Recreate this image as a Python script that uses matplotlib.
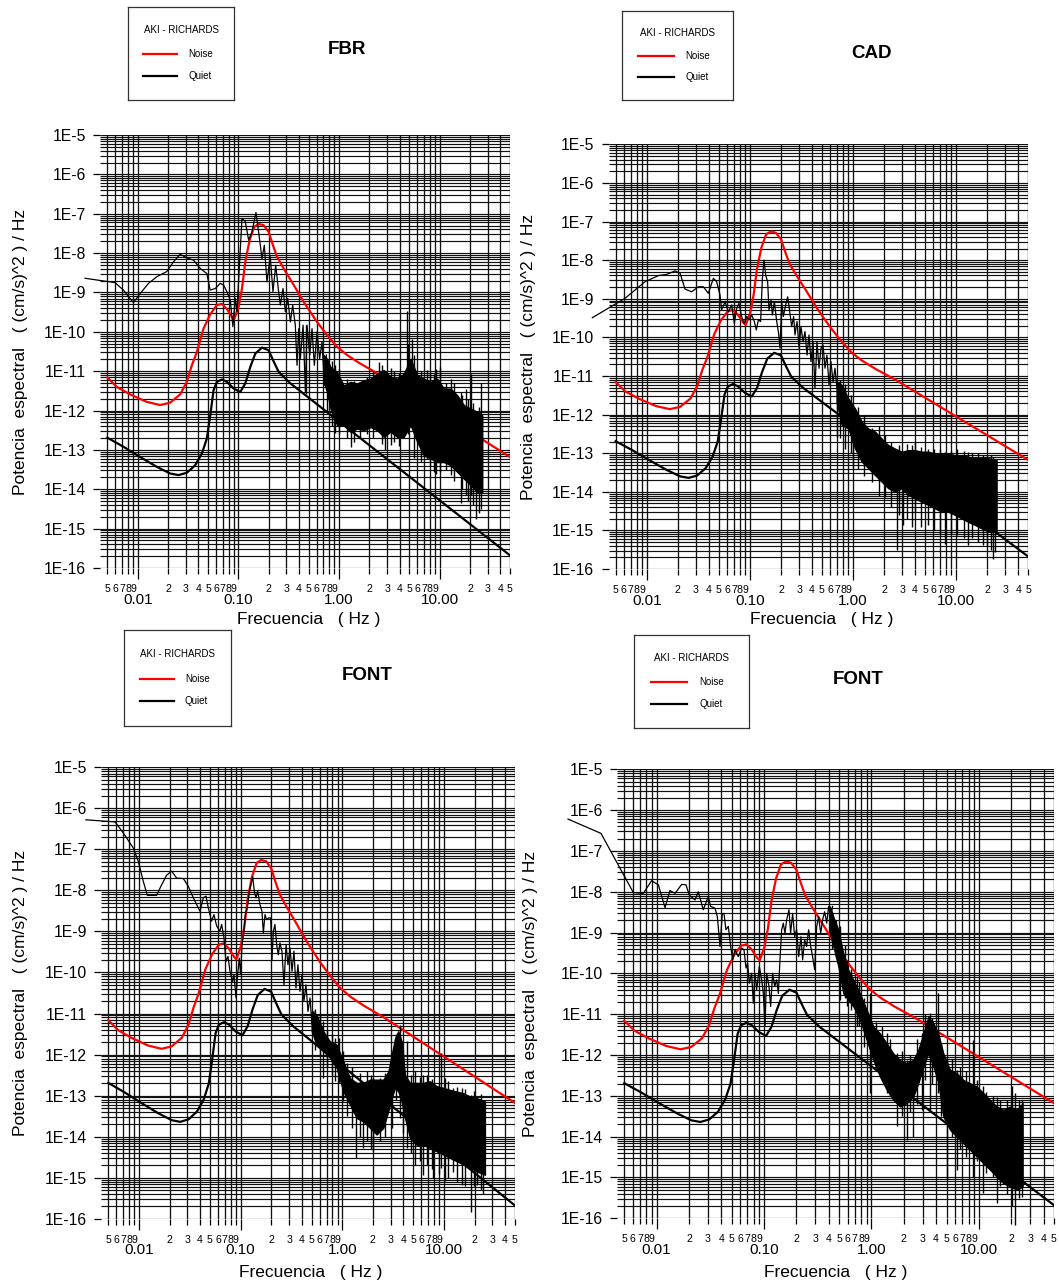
import numpy as np
import matplotlib
matplotlib.use("Agg")
import matplotlib.pyplot as plt
from matplotlib.ticker import FixedLocator, FixedFormatter

plt.rcParams['font.family'] = ['Liberation Sans', 'DejaVu Sans']

# ---------------------------------------------------------------------------
# Reference models (Aki - Richards): log10 frequency [Hz], log10 PSD
# ---------------------------------------------------------------------------
noise_log_f = [-2.301, -2.208, -2.075, -1.910, -1.777, -1.677, -1.578, -1.512, -1.462,
               -1.412, -1.346, -1.279, -1.213, -1.163, -1.114, -1.064, -1.041, -0.997,
               -0.964, -0.931, -0.888, -0.842, -0.799, -0.749, -0.699, -0.656, -0.616,
               -0.550, -0.450, -0.351, -0.218, -0.119, -0.019, 0.080, 0.213, 0.412, 1.699]
noise_log_psd = [-11.16, -11.40, -11.59, -11.78, -11.86, -11.80, -11.59, -11.27, -10.85,
                 -10.51, -9.92, -9.55, -9.32, -9.29, -9.42, -9.62, -9.68, -9.36,
                 -8.90, -8.22, -7.67, -7.33, -7.26, -7.29, -7.46, -7.80, -8.09,
                 -8.39, -8.81, -9.24, -9.75, -10.08, -10.38, -10.59, -10.81, -11.10, -13.18]

quiet_log_f = [-2.301, -2.142, -1.976, -1.810, -1.677, -1.594, -1.512, -1.429, -1.362,
               -1.313, -1.279, -1.246, -1.213, -1.163, -1.114, -1.047, -0.981, -0.931,
               -0.881, -0.831, -0.764, -0.699, -0.648, -0.599, -0.483, 1.699]
quiet_log_psd = [-12.69, -12.92, -13.18, -13.43, -13.60, -13.64, -13.58, -13.39, -13.09,
                 -12.71, -12.12, -11.48, -11.27, -11.21, -11.27, -11.44, -11.53, -11.31,
                 -10.89, -10.55, -10.40, -10.47, -10.76, -11.02, -11.31, -15.68]

# ---------------------------------------------------------------------------
# Station FBR
# ---------------------------------------------------------------------------
fbr_log_f = [-2.523, -2.225, -2.142, -2.042, -1.976, -1.893, -1.810, -1.711, -1.644, -1.578,
             -1.512, -1.445, -1.379, -1.313, -1.280, -1.230, -1.180, -1.147, -1.114, -1.080,
             -1.054, -1.031, -1.014, -0.991, -0.964, -0.931, -0.898, -0.865, -0.825, -0.799,
             -0.765, -0.742, -0.716, -0.683, -0.656, -0.629, -0.600, -0.583, -0.556, -0.533,
             -0.510, -0.483, -0.460, -0.434, -0.417, -0.400, -0.384, -0.357, -0.334, -0.318,
             -0.291, -0.268, -0.245, -0.218, -0.192, -0.169, -0.145, -0.125]
fbr_log_psd = [-8.64, -8.75, -8.94, -9.26, -9.03, -8.77, -8.60, -8.47, -8.22, -8.03,
               -8.12, -8.18, -8.39, -8.52, -8.94, -8.90, -8.77, -8.81, -8.98, -9.19,
               -9.87, -9.15, -9.49, -8.39, -7.12, -7.20, -7.67, -7.46, -6.97, -7.46,
               -8.14, -7.80, -8.73, -8.09, -8.98, -8.31, -8.98, -9.32, -8.90, -9.49,
               -9.15, -9.75, -9.32, -9.83, -10.85, -9.92, -10.68, -9.83, -11.53, -9.83,
               -10.59, -9.92, -10.85, -10.00, -10.68, -10.25, -11.36, -10.59]
fbr_band_log_f = [-0.152, -0.119, -0.085, -0.019, 0.047, 0.114, 0.180, 0.246, 0.313, 0.379,
                  0.445, 0.512, 0.578, 0.644, 0.711, 0.777, 0.843, 0.910, 0.976, 1.042,
                  1.109, 1.175, 1.241, 1.308, 1.374, 1.424]
fbr_band_hi = [-10.59, -10.68, -10.89, -11.02, -11.36, -11.27, -11.31, -11.23, -11.19, -11.06,
               -10.97, -11.14, -11.19, -11.06, -10.68, -11.10, -11.19, -11.27, -11.19, -11.44,
               -11.44, -11.61, -11.86, -11.95, -12.03, -12.12]
fbr_band_lo = [-11.27, -11.53, -11.95, -12.37, -12.37, -12.54, -12.46, -12.50, -12.42, -12.50,
               -12.67, -12.54, -12.67, -12.67, -12.37, -12.80, -13.14, -13.22, -13.31, -13.31,
               -13.39, -13.56, -13.73, -13.90, -14.07, -14.07]
fbr_spike_log_f = [-0.324, -0.036, 0.124, 0.213, 0.396, 0.462, 0.512, 0.671, 0.727, 0.876,
                   0.943, 1.003, 1.109, 1.208, 1.258, 1.308, 1.357, 1.407,
                   -0.12, -0.07, 0.00, 0.08, 0.15, 0.28, 0.34, 0.43, 0.55, 0.60,
                   0.69, 0.75, 0.81, 0.90, 0.96, 1.06, 1.14, 1.22, 1.28, 1.33, 1.39]
fbr_spike_hi = [-9.83, -10.85, -11.36, -11.27, -10.76, -11.02, -10.93, -9.47, -10.17, -10.97,
                -11.06, -10.89, -11.19, -11.53, -11.44, -11.06, -12.12, -11.31,
                -10.68, -10.75, -10.95, -11.20, -11.25, -11.15, -11.00, -10.85, -11.00, -11.05,
                -10.30, -10.60, -11.00, -11.05, -10.95, -11.30, -11.30, -11.60, -11.70, -11.80, -11.90]
fbr_spike_lo = [-11.57, -12.58, -12.92, -12.71, -12.37, -13.00, -12.88, -12.37, -12.20, -13.22,
                -13.56, -13.56, -13.64, -14.36, -14.15, -14.15, -14.75, -14.49,
                -12.00, -12.40, -12.60, -12.70, -12.80, -12.60, -12.70, -12.85, -12.80, -12.90,
                -12.60, -13.20, -13.30, -13.40, -13.60, -13.50, -13.80, -14.00, -14.30, -14.40, -14.60]

# ---------------------------------------------------------------------------
# Station CAD
# ---------------------------------------------------------------------------
cad_log_f = [-2.527, -2.211, -2.017, -1.887, -1.807, -1.726, -1.677, -1.629, -1.564, -1.500,
             -1.451, -1.403, -1.354, -1.322, -1.290, -1.274, -1.241, -1.209, -1.177, -1.151,
             -1.128, -1.106, -1.080, -1.057, -1.031, -1.009, -0.983, -0.957, -0.938, -0.918,
             -0.896, -0.879, -0.863, -0.847, -0.828, -0.815, -0.795, -0.782, -0.763, -0.740,
             -0.724, -0.708, -0.692, -0.676, -0.653, -0.634, -0.618, -0.595, -0.576, -0.563,
             -0.543, -0.524, -0.505, -0.485, -0.466, -0.446, -0.427, -0.408, -0.388, -0.369,
             -0.350, -0.330, -0.311, -0.291, -0.272, -0.253, -0.233, -0.214, -0.194, -0.175,
             -0.156]
cad_log_psd = [-9.49, -8.99, -8.56, -8.40, -8.37, -8.28, -8.34, -8.75, -8.82, -8.69,
               -8.69, -8.86, -8.47, -8.56, -8.90, -9.29, -9.08, -9.34, -9.16, -9.64,
               -9.25, -9.12, -9.46, -9.64, -9.46, -9.55, -9.42, -9.59, -9.81, -9.55,
               -9.59, -8.47, -8.00, -8.39, -8.56, -9.29, -9.03, -9.42, -9.08, -9.59,
               -9.85, -10.28, -9.08, -9.46, -9.16, -8.95, -9.25, -9.72, -9.46, -9.94,
               -9.59, -10.28, -9.72, -10.11, -9.85, -10.46, -9.94, -10.63, -10.11, -11.32,
               -10.11, -10.80, -10.28, -10.20, -10.80, -10.46, -11.23, -10.63, -11.15, -10.80,
               -11.32]
cad_band_log_f = [-0.159, -0.110, -0.046, 0.019, 0.084, 0.148, 0.213, 0.277, 0.342, 0.407,
                  0.471, 0.536, 0.600, 0.665, 0.730, 0.794, 0.859, 0.924, 0.988, 1.053,
                  1.117, 1.182, 1.247, 1.311, 1.392]
cad_band_hi = [-11.15, -11.23, -11.58, -11.84, -12.18, -12.36, -12.44, -12.62, -12.79, -12.88,
               -12.96, -12.92, -12.92, -12.96, -12.96, -13.01, -13.01, -13.01, -13.05, -13.05,
               -13.09, -13.13, -13.13, -13.13, -13.18]
cad_band_lo = [-11.67, -12.27, -12.36, -12.88, -13.22, -13.39, -13.57, -13.74, -13.91, -14.00,
               -13.91, -14.08, -14.17, -14.26, -14.34, -14.43, -14.52, -14.52, -14.60, -14.69,
               -14.78, -14.86, -14.95, -15.03, -15.03]
cad_spike_log_f = [-0.159, 0.003, 0.180, 0.310, 0.423, 0.487, 0.600, 0.730, 0.891, 1.004,
                   1.117, 1.263, 1.360, 1.376,
                   -0.13, -0.08, -0.02, 0.05, 0.11, 0.25, 0.37, 0.45, 0.52, 0.57,
                   0.66, 0.78, 0.84, 0.95, 1.08, 1.15, 1.21, 1.30, 1.34]
cad_spike_hi = [-11.32, -12.36, -12.36, -12.53, -13.05, -12.96, -12.70, -12.88, -12.96, -12.88,
                -12.96, -13.05, -13.09, -13.18,
                -11.10, -11.20, -11.50, -11.80, -12.00, -12.30, -12.70, -12.80, -12.75, -12.80,
                -12.85, -12.90, -12.90, -12.95, -12.95, -13.00, -13.00, -13.05, -13.05]
cad_spike_lo = [-12.57, -13.39, -13.74, -14.13, -15.51, -14.86, -14.52, -14.86, -15.34, -15.12,
                -15.38, -15.38, -15.73, -15.55,
                -12.60, -12.90, -13.00, -13.40, -13.60, -14.10, -14.40, -14.60, -14.70, -14.90,
                -14.90, -15.00, -15.10, -15.10, -15.20, -15.20, -15.30, -15.40, -15.50]

# ---------------------------------------------------------------------------
# Station FONT (first record)
# ---------------------------------------------------------------------------
font1_log_f = [-2.521, -2.235, -2.153, -2.055, -2.006, -1.957, -1.917, -1.826, -1.776, -1.727,
               -1.678, -1.629, -1.563, -1.514, -1.465, -1.399, -1.367, -1.340, -1.317, -1.285,
               -1.262, -1.235, -1.203, -1.186, -1.163, -1.144, -1.124, -1.104, -1.078, -1.065,
               -1.045, -1.032, -1.013, -1.000, -0.986, -0.967, -0.953, -0.934, -0.914, -0.898,
               -0.881, -0.865, -0.849, -0.832, -0.809, -0.790, -0.776, -0.760, -0.744, -0.724,
               -0.704, -0.691, -0.678, -0.662, -0.645, -0.629, -0.613, -0.593, -0.573, -0.553,
               -0.534, -0.514, -0.494, -0.475, -0.455, -0.436, -0.416, -0.396, -0.377, -0.357,
               -0.337, -0.317, -0.298, -0.278]
font1_log_psd = [-6.28, -6.33, -6.60, -6.97, -7.29, -7.78, -8.12, -8.12, -7.86, -7.63,
                 -7.53, -7.70, -7.71, -7.90, -8.18, -8.51, -8.18, -8.14, -8.43, -8.75,
                 -8.59, -8.87, -8.99, -8.83, -9.16, -9.73, -9.61, -9.97, -10.22, -10.05,
                 -10.62, -10.13, -9.65, -10.05, -9.32, -9.00, -8.59, -8.43, -8.02, -7.86,
                 -7.66, -8.02, -8.18, -8.02, -8.35, -8.51, -9.04, -8.59, -8.71, -8.67,
                 -8.67, -9.69, -9.00, -8.83, -9.32, -9.57, -9.28, -9.48, -10.30, -9.32,
                 -9.81, -9.40, -9.97, -9.48, -10.38, -9.81, -10.46, -10.05, -10.70, -10.30,
                 -10.95, -10.62, -11.27, -10.95]
font1_band_log_f = [-0.301, -0.252, -0.186, -0.121, -0.055, 0.010, 0.076, 0.142, 0.207, 0.273,
                    0.338, 0.404, 0.453, 0.486, 0.519, 0.551, 0.584, 0.617, 0.666, 0.732,
                    0.797, 0.863, 0.929, 0.994, 1.060, 1.125, 1.191, 1.256, 1.322, 1.404]
font1_band_hi = [-10.95, -11.03, -11.43, -11.68, -11.76, -12.16, -12.57, -12.69, -12.69, -12.61,
                 -12.61, -12.61, -12.41, -12.00, -11.60, -11.43, -11.68, -12.49, -12.69, -12.69,
                 -12.69, -12.65, -12.77, -12.81, -12.86, -12.90, -12.94, -13.02, -13.06, -13.14]
font1_band_lo = [-11.43, -11.76, -11.92, -12.08, -12.33, -12.90, -13.22, -13.55, -13.63, -13.79,
                 -13.95, -13.79, -13.38, -13.06, -12.81, -12.90, -13.14, -13.55, -14.03, -14.20,
                 -14.20, -14.28, -14.36, -14.44, -14.52, -14.60, -14.68, -14.76, -14.85, -14.93]
font1_spike_log_f = [-0.186, -0.071, 0.010, 0.135, 0.207, 0.306, 0.371, 0.486, 0.568, 0.633,
                     0.715, 0.797, 0.896, 0.971, 1.010, 1.092, 1.174, 1.266, 1.322, 1.388,
                     -0.27, -0.22, -0.15, -0.10, -0.03, 0.05, 0.10, 0.17, 0.24, 0.28,
                     0.42, 0.53, 0.60, 0.68, 0.76, 0.83, 0.88, 0.95, 1.04, 1.13,
                     1.21, 1.30, 1.36]
font1_spike_hi = [-11.19, -11.60, -11.92, -12.73, -12.73, -12.57, -12.57, -12.08, -11.27, -11.68,
                  -12.41, -12.49, -12.73, -11.97, -12.57, -12.81, -12.81, -12.98, -13.06, -13.10,
                  -10.90, -11.00, -11.40, -11.50, -11.60, -12.20, -12.30, -12.45, -12.40, -12.50,
                  -12.45, -11.50, -11.90, -12.50, -12.55, -12.50, -12.60, -12.70, -12.65, -12.80,
                  -12.85, -12.90, -12.95]
font1_spike_lo = [-12.57, -12.65, -13.14, -14.52, -14.28, -14.36, -14.11, -13.79, -13.55, -14.28,
                  -14.68, -14.93, -15.01, -14.76, -15.09, -14.85, -15.17, -15.83, -15.17, -15.41,
                  -11.90, -12.00, -12.30, -12.50, -12.70, -13.50, -13.80, -14.00, -14.10, -14.30,
                  -14.00, -13.10, -13.90, -14.40, -14.60, -14.70, -14.80, -14.90, -15.00, -15.10,
                  -15.20, -15.20, -15.30]

# ---------------------------------------------------------------------------
# Station FONT (second record)
# ---------------------------------------------------------------------------
font2_log_f = [-2.825, -2.518, -2.217, -2.124, -2.047, -1.984, -1.922, -1.876, -1.829, -1.767,
               -1.727, -1.696, -1.643, -1.612, -1.566, -1.519, -1.497, -1.457, -1.435, -1.410,
               -1.389, -1.373, -1.355, -1.333, -1.311, -1.292, -1.271, -1.240, -1.209, -1.187,
               -1.168, -1.153, -1.137, -1.116, -1.100, -1.085, -1.069, -1.044, -1.022, -1.007,
               -0.991, -0.976, -0.954, -0.939, -0.920, -0.901, -0.883, -0.867, -0.852, -0.836,
               -0.821, -0.805, -0.790, -0.768, -0.753, -0.734, -0.715, -0.697, -0.678, -0.656,
               -0.641, -0.622, -0.604, -0.585, -0.566, -0.548, -0.529, -0.510, -0.492, -0.473,
               -0.455, -0.436, -0.417, -0.399, -0.380, -0.362]
font2_log_psd = [-6.22, -6.57, -8.02, -8.04, -7.73, -7.83, -8.39, -7.97, -8.04, -7.82,
                 -7.83, -8.08, -8.20, -8.00, -8.44, -8.12, -8.36, -8.40, -8.61, -9.34,
                 -8.54, -8.53, -8.93, -8.85, -9.34, -9.67, -9.42, -9.59, -9.38, -9.42,
                 -9.87, -9.75, -10.24, -10.00, -10.73, -10.00, -10.40, -9.83, -10.16, -10.49,
                 -11.30, -10.00, -10.32, -10.81, -10.00, -10.32, -10.16, -10.49, -9.67, -8.93,
                 -8.77, -9.02, -8.69, -8.44, -9.02, -8.53, -9.10, -8.93, -9.59, -9.10,
                 -9.67, -9.18, -9.34, -8.93, -9.34, -9.59, -9.91, -8.85, -8.61, -9.02,
                 -8.69, -8.49, -8.77, -8.36, -8.61, -8.36]
font2_band_log_f = [-0.386, -0.355, -0.309, -0.262, -0.216, -0.169, -0.107, -0.045, 0.017, 0.079,
                    0.141, 0.203, 0.265, 0.327, 0.389, 0.436, 0.483, 0.529, 0.576, 0.622,
                    0.669, 0.731, 0.793, 0.855, 0.917, 0.979, 1.041, 1.103, 1.165, 1.227,
                    1.290, 1.352, 1.407]
font2_band_hi = [-8.36, -8.61, -8.93, -9.51, -9.91, -10.16, -10.49, -10.89, -11.30, -11.47,
                 -11.71, -11.96, -12.12, -12.20, -12.12, -11.87, -11.47, -11.06, -11.22, -11.47,
                 -11.96, -12.36, -12.44, -12.61, -12.69, -12.77, -12.93, -13.10, -13.26, -13.34,
                 -13.26, -13.34, -13.18]
font2_band_lo = [-9.02, -9.34, -9.83, -10.49, -10.65, -10.81, -11.14, -11.63, -12.12, -12.53,
                 -12.85, -13.10, -13.26, -13.18, -13.02, -12.69, -12.28, -11.96, -12.28, -12.69,
                 -13.51, -13.83, -14.00, -14.16, -14.32, -14.49, -14.65, -14.81, -14.98, -15.14,
                 -15.22, -15.30, -15.22]
font2_spike_log_f = [-0.293, -0.231, -0.138, -0.014, 0.141, 0.234, 0.327, 0.389, 0.467, 0.545,
                     0.622, 0.706, 0.793, 0.942, 1.041, 1.165, 1.305, 1.336, 1.398,
                     -0.37, -0.33, -0.25, -0.19, -0.12, -0.07, 0.04, 0.10, 0.17, 0.28,
                     0.36, 0.42, 0.50, 0.56, 0.65, 0.75, 0.82, 0.88, 0.98, 1.07,
                     1.13, 1.20, 1.26, 1.37]
font2_spike_hi = [-8.85, -9.67, -10.08, -10.49, -11.47, -11.96, -12.12, -12.12, -11.47, -10.98,
                  -10.49, -12.12, -12.36, -11.63, -12.77, -13.02, -12.77, -12.93, -13.10,
                  -8.50, -8.70, -9.30, -9.90, -10.20, -10.60, -11.20, -11.30, -11.60, -11.90,
                  -12.00, -11.60, -11.00, -11.10, -11.70, -12.10, -12.30, -12.40, -12.60, -12.90,
                  -13.00, -13.10, -13.10, -13.10]
font2_spike_lo = [-10.65, -10.81, -11.30, -12.93, -12.93, -13.75, -14.08, -14.00, -13.34, -13.34,
                  -12.93, -15.06, -14.81, -14.98, -15.38, -15.63, -15.71, -16.16, -15.47,
                  -9.40, -9.60, -10.60, -10.90, -11.30, -11.80, -12.30, -12.60, -13.00, -13.50,
                  -13.40, -13.20, -12.60, -12.70, -13.50, -14.00, -14.30, -14.50, -14.60, -14.90,
                  -15.00, -15.20, -15.40, -15.50]

# Axis ticks
major_ticks = [0.01, 0.1, 1.0, 10.0]
major_labels = ['0.01', '0.10', '1.00', '10.00']
decade_exponents = list(range(-16, -4))

# ---------------------------------------------------------------------------
W, H = 1059, 1283
fig = plt.figure(figsize=(W / 100, H / 100), dpi=100)

PT = 0.72  # points per pixel at 100 dpi


def lg(values):
    return 10.0 ** np.asarray(values, dtype=float)


def make_panel(x005, x50, ytop, ybot):
    pad = 7.0
    dec = (x50 - x005) / 4.0
    left = x005 - pad
    ax = fig.add_axes([left / W, 1 - ybot / H, (x50 - left) / W, (ybot - ytop) / H])
    ax.set_xscale('log')
    ax.set_yscale('log')
    xmin = 0.005 * 10 ** (-pad / dec)
    ax.set_xlim(xmin, 50)
    ax.set_ylim(1e-16, 1e-5)
    for s in ax.spines.values():
        s.set_visible(False)
    ax.patch.set_alpha(0)

    # grid: every 1..9 subdivision on both axes
    xgrid = [m * 10.0 ** k for k in range(-3, 2) for m in range(1, 10)
             if 0.005 - 1e-12 <= m * 10.0 ** k <= 50 + 1e-9]
    ygrid = [m * 10.0 ** k for k in range(-16, -5) for m in range(1, 10)] + [1e-5]
    ax.hlines(ygrid, xmin, 50, color='#111111', lw=0.85, zorder=1)
    ax.vlines(xgrid, 1e-16, 1e-5, color='#111111', lw=0.95, zorder=1)

    minor = [v for v in xgrid if not any(abs(v - t) < 1e-9 for t in major_ticks)]
    minor_lab = [str(int(round(v / 10 ** np.floor(np.log10(v) + 1e-9)))) for v in minor]
    ax.xaxis.set_major_locator(FixedLocator(major_ticks))
    ax.xaxis.set_major_formatter(FixedFormatter(major_labels))
    ax.xaxis.set_minor_locator(FixedLocator(minor))
    ax.xaxis.set_minor_formatter(FixedFormatter(minor_lab))
    ax.tick_params(axis='x', which='major', direction='out', length=11 * PT,
                   width=0.9, labelsize=11, pad=13.5 * PT)
    ax.tick_params(axis='x', which='minor', direction='out', length=6 * PT,
                   width=0.9, labelsize=7.6, pad=10 * PT)

    ax.yaxis.set_major_locator(FixedLocator([10.0 ** e for e in decade_exponents]))
    ax.yaxis.set_major_formatter(FixedFormatter([f'1E{e}' for e in decade_exponents]))
    ax.yaxis.set_minor_locator(FixedLocator([]))
    ax.tick_params(axis='y', which='major', direction='out', length=7.5 * PT,
                   width=0.9, labelsize=11.3, pad=7 * PT)
    return ax


def draw_station(ax, f, p, bf, bhi, blo, sf, shi, slo):
    ax.plot(lg(noise_log_f), lg(noise_log_psd), color='#ff0000', lw=1.6, zorder=4)
    ax.plot(lg(quiet_log_f), lg(quiet_log_psd), color='black', lw=1.6, zorder=4)
    ax.plot(lg(f), lg(p), color='black', lw=0.9, zorder=5, clip_on=False)
    ax.fill_between(lg(bf), lg(blo), lg(bhi), color='black', lw=0.9, zorder=5)
    ax.vlines(lg(sf), lg(slo), lg(shi), color='black', lw=1.0, zorder=5, clip_on=False)


def legend_box(x0, y0, x1, y1):
    lax = fig.add_axes([x0 / W, 1 - y1 / H, (x1 - x0) / W, (y1 - y0) / H])
    lax.set_xlim(0, 1)
    lax.set_ylim(0, 1)
    lax.set_xticks([])
    lax.set_yticks([])
    for s in lax.spines.values():
        s.set_linewidth(0.9)
        s.set_color('#333333')
    lax.text(0.5, 0.75, 'AKI - RICHARDS', ha='center', va='center', fontsize=7)
    lax.plot([0.146, 0.465], [0.492, 0.492], color='#ff0000', lw=1.6)
    lax.text(0.568, 0.492, 'Noise', ha='left', va='center', fontsize=7)
    lax.plot([0.146, 0.465], [0.259, 0.259], color='black', lw=1.6)
    lax.text(0.568, 0.259, 'Quiet', ha='left', va='center', fontsize=7)


def ftext(x, y, s, **kw):
    fig.text(x / W, 1 - y / H, s, **kw)


YLAB = 'Potencia  espectral   ( (cm/s)^2 ) / Hz'
XLAB = 'Frecuencia   ( Hz )'

panels = [
    dict(axes=(107.4, 510.0, 135.0, 568.0), box=(128, 7, 234, 99.5), title=('FBR', 347, 49.5),
         ylab=(20.5, 351.5), xlab=(309, 619.5),
         data=(fbr_log_f, fbr_log_psd, fbr_band_log_f, fbr_band_hi, fbr_band_lo,
               fbr_spike_log_f, fbr_spike_hi, fbr_spike_lo)),
    dict(axes=(615.7, 1028.3, 144.3, 569.0), box=(622, 11, 733, 100), title=('CAD', 871, 53.5),
         ylab=(528, 356.5), xlab=(822, 620),
         data=(cad_log_f, cad_log_psd, cad_band_log_f, cad_band_hi, cad_band_lo,
               cad_spike_log_f, cad_spike_hi, cad_spike_lo)),
    dict(axes=(108.3, 515.0, 767.3, 1218.7), box=(124, 630, 231, 726), title=('FONT', 367, 676),
         ylab=(20.5, 993), xlab=(311, 1273),
         data=(font1_log_f, font1_log_psd, font1_band_log_f, font1_band_hi, font1_band_lo,
               font1_spike_log_f, font1_spike_hi, font1_spike_lo)),
    dict(axes=(624.3, 1054.0, 769.3, 1218.3), box=(634, 635, 749, 728), title=('FONT', 858, 680),
         ylab=(531, 994), xlab=(836, 1273),
         data=(font2_log_f, font2_log_psd, font2_band_log_f, font2_band_hi, font2_band_lo,
               font2_spike_log_f, font2_spike_hi, font2_spike_lo)),
]

for pnl in panels:
    ax = make_panel(*pnl['axes'])
    draw_station(ax, *pnl['data'])
    legend_box(*pnl['box'])
    name, tx, ty = pnl['title']
    ftext(tx, ty, name, ha='center', va='center', fontsize=13.5, fontweight='bold')
    ftext(pnl['ylab'][0], pnl['ylab'][1], YLAB, rotation=90, ha='center', va='center',
          fontsize=12.5)
    ftext(pnl['xlab'][0], pnl['xlab'][1], XLAB, ha='center', va='center', fontsize=12.5)

fig.savefig('out.png', dpi=100, facecolor='white')
